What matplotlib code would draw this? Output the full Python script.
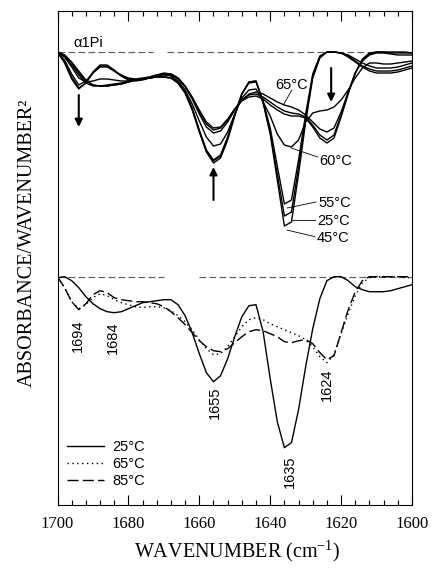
import numpy as np
import matplotlib
matplotlib.use("Agg")
import matplotlib.pyplot as plt
from matplotlib.ticker import MultipleLocator
from matplotlib.lines import Line2D

plt.rcParams['mathtext.fontset'] = 'custom'
plt.rcParams['mathtext.rm'] = 'Liberation Serif'
plt.rcParams['mathtext.it'] = 'Liberation Serif:italic'

# wavenumber grid (cm-1), 1700 -> 1600 every 2 cm-1
wavenumber = np.arange(1700, 1599, -2)

# ---- upper set (alpha1Pi, temperature series); depth below baseline, a.u.
upper_25 = [0, 3, 11, 21, 29, 33, 34, 34, 33, 32,
            30, 28, 27, 26, 25, 25, 26, 31, 41, 57,
            79, 99, 109, 104, 86, 63, 42, 30, 29, 50,
            80, 122, 164, 160, 115, 66, 24, 5, 0, 0,
            1, 4, 9, 14, 17, 19, 19, 19, 18, 16, 14]
upper_45 = [0, 3, 10, 19, 28, 33, 34, 34, 33, 32,
            30, 28, 27, 26, 25, 25, 26, 31, 41, 58,
            80, 100, 111, 106, 88, 64, 42, 30, 29, 51,
            82, 128, 174, 170, 122, 70, 26, 6, 0, 0,
            1, 5, 10, 15, 19, 21, 21, 21, 20, 18, 16]
upper_55 = [0, 4, 13, 23, 31, 34, 34, 33, 32, 31,
            29, 28, 27, 26, 25, 25, 26, 30, 40, 56,
            78, 98, 108, 103, 85, 62, 42, 31, 30, 49,
            76, 114, 152, 148, 108, 62, 22, 4, 0, 0,
            1, 3, 7, 11, 14, 16, 16, 16, 15, 13, 11]
upper_60 = [0, 5, 15, 26, 30, 29, 27, 27, 28, 29,
            29, 28, 27, 26, 24, 23, 24, 29, 38, 52,
            69, 85, 94, 92, 80, 62, 46, 38, 37, 50,
            64, 82, 93, 95, 88, 70, 61, 59, 58, 55,
            48, 38, 26, 16, 11, 11, 12, 12, 11, 10, 9]
upper_65 = [0, 8, 22, 33, 29, 21, 15, 15, 19, 23,
            26, 27, 26, 25, 23, 22, 23, 27, 35, 47,
            62, 75, 81, 79, 70, 58, 48, 42, 40, 42,
            46, 50, 53, 55, 58, 63, 70, 77, 80, 76,
            60, 40, 21, 9, 3, 1, 1, 2, 3, 3, 3]
upper_70 = [0, 10, 25, 36, 31, 21, 14, 14, 19, 24,
            27, 28, 27, 25, 23, 21, 22, 26, 34, 46,
            60, 72, 78, 76, 68, 57, 48, 43, 42, 45,
            50, 55, 59, 61, 62, 65, 73, 83, 88, 83,
            63, 41, 21, 8, 2, 0, 0, 1, 1, 1, 1]
upper_80 = [0, 11, 27, 37, 31, 20, 13, 13, 18, 24,
            28, 29, 28, 26, 24, 22, 22, 26, 34, 45,
            58, 70, 76, 75, 67, 57, 49, 45, 44, 47,
            53, 58, 62, 64, 64, 66, 75, 86, 91, 86,
            65, 42, 21, 7, 1, 0, 0, 0, 0, 0, 1]
upper_series = [upper_25, upper_45, upper_55, upper_60, upper_65, upper_70, upper_80]

# ---- lower set (three temperatures)
lower_25 = [1, 0, 4, 11, 20, 27, 32, 35, 36, 35,
            32, 29, 26, 25, 24, 23, 23, 28, 39, 56,
            77, 96, 105, 99, 82, 60, 40, 29, 28, 55,
            102, 145, 171, 166, 133, 90, 52, 22, 4, 0,
            0, 4, 10, 13, 15, 15, 15, 14, 12, 10, 8]
lower_65 = [0, 11, 25, 32, 28, 21, 17, 19, 23, 26,
            28, 30, 31, 30, 30, 31, 34, 39, 45, 53,
            63, 72, 78, 77, 70, 60, 50, 43, 41, 43,
            47, 50, 53, 56, 59, 63, 70, 80, 86, 78,
            57, 37, 19, 6, 1, 0, 0, 0, 0, 1, 1]
lower_85 = [0, 11, 25, 33, 27, 18, 14, 16, 21, 23,
            24, 25, 25, 26, 27, 30, 35, 41, 48, 56,
            64, 70, 74, 75, 72, 66, 60, 55, 53, 54,
            57, 60, 65, 66, 64, 63, 67, 76, 83, 79,
            56, 33, 15, 4, 0, 0, 0, 0, 0, 0, 0]
legend_labels = ["25°C", "65°C", "85°C"]
peak_labels = ["1694", "1684", "1655", "1635", "1624"]
peak_positions = [1694.2, 1684.3, 1655.6, 1634.4, 1624.0]

LOWER_OFFSET = 224.7
SANS = "Liberation Sans"
SERIF = "Liberation Serif"

fig = plt.figure(figsize=(4.32, 5.72), dpi=100)
ax = fig.add_axes([57.5 / 432, 1 - 505 / 572, 354.5 / 432, 494 / 572])
ax.set_xlim(1700, 1600)
ax.set_ylim(-453, 41)

# baselines
base_kw = dict(color='0.35', lw=0.8, linestyle=(0, (6, 3)))
ax.plot([1700, 1673], [0, 0], **base_kw)
ax.plot([1669, 1600], [0, 0], **base_kw)
ax.plot([1700, 1670], [-LOWER_OFFSET] * 2, **base_kw)
ax.plot([1660, 1600], [-LOWER_OFFSET] * 2, **base_kw)

for s in upper_series:
    ax.plot(wavenumber, -np.asarray(s, float), color='k', lw=1.0)

ax.plot(wavenumber, -np.asarray(lower_25, float) - LOWER_OFFSET, color='k', lw=1.0)
ax.plot(wavenumber, -np.asarray(lower_65, float) - LOWER_OFFSET, color='k', lw=1.0,
        linestyle=(0, (1, 2.5)))
ax.plot(wavenumber, -np.asarray(lower_85, float) - LOWER_OFFSET, color='k', lw=1.0,
        linestyle=(0, (8, 3)))

# upper annotations
ax.text(1695.6, 9, "α1Pi", family=SANS, fontsize=10.5, ha='left', va='center')
arrow_kw = dict(arrowstyle='-|>', lw=1.5, color='k', mutation_scale=11, shrinkA=0, shrinkB=0)
ax.annotate("", xy=(1694, -75), xytext=(1694, -43), arrowprops=arrow_kw)
ax.annotate("", xy=(1656, -115), xytext=(1656, -148), arrowprops=arrow_kw)
ax.annotate("", xy=(1622.8, -50), xytext=(1622.8, -16), arrowprops=arrow_kw)

temp_labels = [("65°C", 1638.6, -33, (1633.9, -38), (1636.3, -53)),
               ("60°C", 1626.2, -109, (1626.6, -105), (1634.1, -96)),
               ("55°C", 1626.5, -151, (1627.1, -150), (1635.2, -156)),
               ("25°C", 1626.8, -169, (1627.4, -168), (1633.9, -168)),
               ("45°C", 1626.8, -186, (1627.4, -184.7), (1635.3, -178))]
for txt, x, y, p0, p1 in temp_labels:
    ax.text(x, y, txt, family=SANS, fontsize=10.5, ha='left', va='center')
    ax.plot([p0[0], p1[0]], [p0[1], p1[1]], color='k', lw=0.6)

# lower peak labels
peak_y = [-284, -285.5, -351, -420, -333]
for lab, x, y in zip(peak_labels, peak_positions, peak_y):
    ax.text(x, y, lab, family=SANS, fontsize=10.5, rotation=90, ha='center', va='center')

# legend
handles = [Line2D([], [], color='k', lw=1.0),
           Line2D([], [], color='k', lw=1.0, linestyle=(0, (1, 2.5))),
           Line2D([], [], color='k', lw=1.0, linestyle=(0, (8, 3)))]
leg = ax.legend(handles, legend_labels, loc='lower left', bbox_to_anchor=(0.027, 0.034),
                frameon=False, borderaxespad=0, borderpad=0, handlelength=2.5,
                handletextpad=0.6, labelspacing=0.2, prop={'family': SANS, 'size': 10.5})

# ticks
ax.xaxis.set_major_locator(MultipleLocator(20))
ax.xaxis.set_minor_locator(MultipleLocator(4))
ax.tick_params(axis='x', which='both', direction='in', top=True, bottom=True,
               labelsize=12, pad=8, width=0.8)
ax.tick_params(axis='x', which='major', length=7.2)
ax.tick_params(axis='x', which='minor', length=3.3)
for lab in ax.get_xticklabels():
    lab.set_family(SERIF)
ax.set_yticks([])
for sp in ax.spines.values():
    sp.set_linewidth(0.8)

fig.text(237 / 432, 1 - 557 / 572, "WAVENUMBER (cm$^{-1}$)", family=SERIF, fontsize=14.5,
         ha='center', va='baseline')
fig.text(27 / 432, 1 - 243 / 572, "ABSORBANCE/WAVENUMBER²", family=SERIF, fontsize=14.5,
         rotation=90, ha='center', va='center')

fig.savefig("out.png", dpi=100)
